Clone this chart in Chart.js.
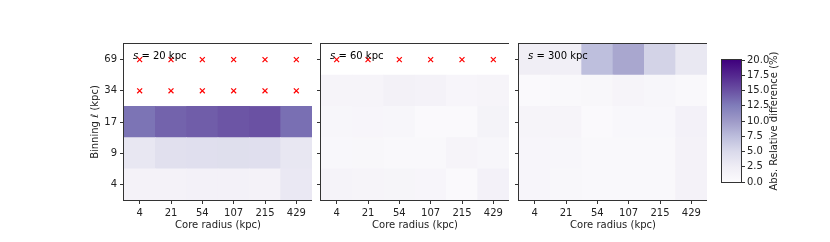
<!DOCTYPE html>
<html>
<head>
<meta charset="utf-8">
<script src="https://cdn.jsdelivr.net/npm/chart.js@4.4.1/dist/chart.umd.min.js"></script>
<style>
  body { margin:0; background:#fff; width:830px; height:242px; position:relative; overflow:hidden; }
  canvas { position:absolute; }
</style>
</head>
<body>
<canvas id="p0" width="232" height="205" style="left:80px;top:30px"></canvas>
<canvas id="p1" width="232" height="205" style="left:277px;top:30px"></canvas>
<canvas id="p2" width="232" height="205" style="left:475px;top:30px"></canvas>
<canvas id="cbar" width="118" height="162" style="left:712px;top:40px"></canvas>
<script>
const CORES = ["4","21","54","107","215","429"];
const ELL = ["4","9","17","34","69"];
const SMOOTH = ["20 kpc","60 kpc","300 kpc"];
const VMAX = 20;
const CBAR_STEP = 2.5;

// rows go bottom (l=4) to top (l=69); null = no value, marked with a red x
const DIFF_S20 = [
  [1.6, 1.6, 1.7, 1.7, 1.6, 3.1],
  [3.3, 4.2, 4.3, 4.4, 4.3, 3.3],
  [13.0, 14.0, 14.3, 14.8, 15.0, 13.3],
  [null, null, null, null, null, null],
  [null, null, null, null, null, null],
];
const DIFF_S60 = [
  [1.4, 1.2, 1.1, 1.0, 0.4, 1.7],
  [0.7, 0.8, 0.5, 0.5, 1.2, 0.9],
  [0.9, 1.0, 0.9, 0.3, 0.3, 1.5],
  [1.2, 1.2, 1.8, 1.6, 1.0, 1.2],
  [null, null, null, null, null, null],
];
const DIFF_S300 = [
  [1.0, 0.8, 0.6, 0.5, 0.5, 1.6],
  [1.0, 0.9, 0.5, 0.6, 0.6, 1.6],
  [1.2, 1.2, 0.3, 0.7, 0.7, 1.7],
  [0.4, 0.5, 0.8, 1.2, 0.9, 0.6],
  [2.4, 2.1, 7.3, 9.1, 5.6, 3.2],
];
const PANELS = [DIFF_S20, DIFF_S60, DIFF_S300];

// matplotlib "Purples"
const PURPLES = ["#fcfbfd","#efedf5","#dadaeb","#bcbddc","#9e9ac8","#807dba","#6a51a3","#54278f","#3f007d"];
const hex = h => [1,3,5].map(i => parseInt(h.slice(i, i+2), 16));
function purples(t) {
  t = Math.max(0, Math.min(1, t)) * (PURPLES.length - 1);
  const i = Math.min(Math.floor(t), PURPLES.length - 2), f = t - i;
  const a = hex(PURPLES[i]), b = hex(PURPLES[i+1]);
  return `rgb(${a.map((v, k) => Math.round(v + (b[k] - v) * f)).join(",")})`;
}

const FONT = { family: "'DejaVu Sans', sans-serif", size: 10 };
const TXT = "#222";

// box round the plot area, panel label, colorbar title
const frame = {
  id: "frame",
  afterDatasetsDraw(chart, args, opts) {
    const { ctx, chartArea: a } = chart;
    ctx.save();
    if (opts.label) {
      const x = a.left + 9, y = a.top + 12;
      ctx.fillStyle = "#000";
      ctx.textBaseline = "middle";
      ctx.font = "italic 10px 'DejaVu Sans'";
      ctx.fillText("s", x, y);
      const w = ctx.measureText("s").width;
      ctx.font = "10px 'DejaVu Sans'";
      ctx.fillText(" = " + opts.label, x + w, y);
    }
    if (opts.title) {
      ctx.fillStyle = TXT;
      ctx.font = "10px 'DejaVu Sans'";
      ctx.textAlign = "center";
      ctx.textBaseline = "middle";
      ctx.translate(a.right + 33, (a.top + a.bottom) / 2);
      ctx.rotate(-Math.PI / 2);
      ctx.fillText(opts.title, 0, 0);
      ctx.setTransform(1, 0, 0, 1, 0, 0);
    }
    ctx.strokeStyle = "#333";
    ctx.lineWidth = 1;
    ctx.strokeRect(Math.round(a.left) - 0.5, Math.round(a.top) - 0.5,
      Math.round(a.right - a.left) + 1, Math.round(a.bottom - a.top) + 1);
    ctx.restore();
  }
};

function makePanel(id, values, label, showY) {
  const datasets = [];
  values.forEach((row, r) => {
    datasets.push({
      type: "bar",
      data: row.map(v => v == null ? null : [r - 0.5, r + 0.5]),
      backgroundColor: row.map(v => v == null ? "#ffffff" : purples(v / VMAX)),
      borderWidth: 0,
      grouped: false,
      barPercentage: 1,
      categoryPercentage: 1,
      order: 2,
    });
    if (row.some(v => v == null)) {
      datasets.push({
        type: "line",
        data: row.map(v => v == null ? r : null),
        showLine: false,
        pointStyle: "crossRot",
        pointRadius: 3.5,
        pointBorderColor: "#ff0000",
        pointBackgroundColor: "#ff0000",
        pointBorderWidth: 1.2,
        order: 1,
      });
    }
  });

  return new Chart(document.getElementById(id), {
    type: "bar",
    data: { labels: CORES, datasets },
    plugins: [frame],
    options: {
      responsive: false,
      animation: false,
      layout: { autoPadding: false, padding: { left: 5, top: 14, right: 0, bottom: 0 } },
      plugins: { legend: { display: false }, tooltip: { enabled: false }, frame: { label } },
      scales: {
        x: {
          grid: { offset: false, drawOnChartArea: false, tickLength: 4, tickColor: "#333" },
          border: { display: false },
          ticks: { font: FONT, color: TXT, padding: 3, maxRotation: 0 },
          title: { display: true, text: "Core radius (kpc)", font: FONT, color: TXT, padding: { top: 4, bottom: 4 } },
          afterFit: s => { s.height = 35; },
        },
        y: {
          type: "linear",
          min: -0.5,
          max: 4.5,
          afterBuildTicks: s => { s.ticks = ELL.map((_, i) => ({ value: i })); },
          grid: { drawOnChartArea: false, tickLength: 4, tickColor: "#333" },
          border: { display: false },
          ticks: { display: showY, font: FONT, color: TXT, padding: 3, callback: v => ELL[v] },
          title: { display: showY, text: "Binning ℓ (kpc)", font: FONT, color: TXT, padding: { top: 4, bottom: 4 } },
          afterFit: s => { s.width = 39; },
        }
      }
    }
  });
}

PANELS.forEach((vals, i) => makePanel("p" + i, vals, SMOOTH[i], i === 0));

// colorbar
function cbarGradient(chart) {
  const a = chart.chartArea;
  if (!a) return PURPLES[0];
  const g = chart.ctx.createLinearGradient(0, a.bottom, 0, a.top);
  PURPLES.forEach((c, i) => g.addColorStop(i / (PURPLES.length - 1), c));
  return g;
}

new Chart(document.getElementById("cbar"), {
  type: "bar",
  data: {
    labels: [""],
    datasets: [{
      data: [[0, VMAX]],
      backgroundColor: ctx => cbarGradient(ctx.chart),
      borderWidth: 0,
      barPercentage: 1,
      categoryPercentage: 1,
    }]
  },
  plugins: [frame],
  options: {
    responsive: false,
    animation: false,
    layout: { autoPadding: false, padding: { left: 10, top: 20, right: 0, bottom: 20 } },
    plugins: { legend: { display: false }, tooltip: { enabled: false }, frame: { title: "Abs. Relative difference (%)" } },
    scales: {
      x: { display: false },
      y: {
        position: "right",
        min: 0,
        max: VMAX,
        grid: { drawOnChartArea: false, tickLength: 4, tickColor: "#333" },
        border: { display: false },
        ticks: { stepSize: CBAR_STEP, font: FONT, color: TXT, padding: 2, callback: v => v.toFixed(1) },
        afterFit: s => { s.width = 89; },
      }
    }
  }
});
</script>
</body>
</html>
